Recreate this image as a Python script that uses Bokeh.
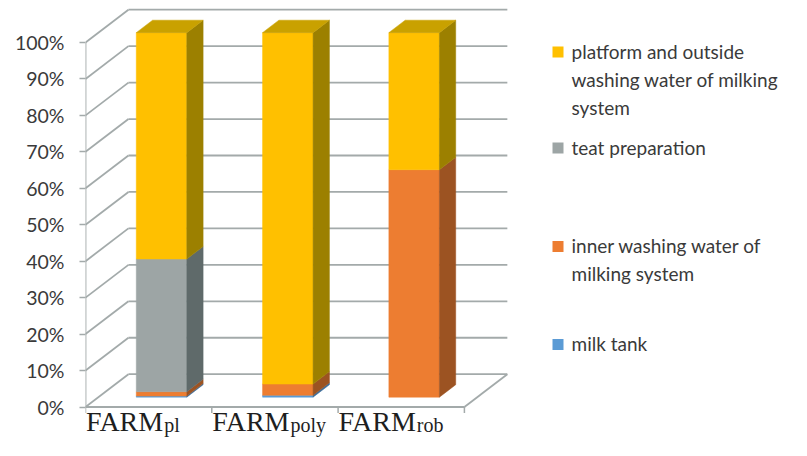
from bokeh.plotting import figure
from bokeh.models import FixedTicker, PrintfTickFormatter, Range1d
from bokeh.embed import file_html
from bokeh.resources import INLINE
from bokeh.core.properties import value

# ---------------- data ----------------
farm_main = ["FARM", "FARM", "FARM"]
farm_sub = ["pl", "poly", "rob"]
# stacked from bottom to top, percent of total
milk_tank = [0.3, 0.5, 0.0]
inner_washing = [1.2, 3.1, 62.4]
teat_preparation = [36.4, 0.0, 0.0]
platform_outside = [62.1, 96.4, 37.6]
series_names = ["milk tank", "inner washing water of\nmilking system",
                "teat preparation",
                "platform and outside\nwashing water of milking\nsystem"]
y_ticks = [0, 10, 20, 30, 40, 50, 60, 70, 80, 90, 100]

# ---------------- styles ----------------
front_colors = ["#5B9BD5", "#ED7D31", "#9DA5A5", "#FFC000"]
side_colors = ["#3C6E9C", "#9C5322", "#5F6A6A", "#9C8000"]
top_colors = ["#4A84BA", "#C8682A", "#7E8787", "#C9A100"]
grid_color = "#A3AAAA"
text_color = "#3a3a3a"

W, H = 791, 440
X0, Y0 = 85, 406.5        # canvas pixel of x=0 / y=0
PX_X, PX_Y = 126.3, 3.645  # pixels per category / per percent
DX, DY = 0.34, 9.0        # depth of the 3D box (data units)
F0, F1 = 0.30, 0.68       # bar depth fractions
BW = 0.40                 # bar width


def px_x(X):
    return (X - X0) / PX_X


def px_y(Y):
    return (Y0 - Y) / PX_Y


def dpx_y(d):
    return d / PX_Y


n = len(farm_main)
p = figure(width=W, height=H, output_backend="svg", toolbar_location=None,
           x_range=Range1d(0, px_x(W)), y_range=Range1d(px_y(H), px_y(0)),
           min_border_left=X0, min_border_right=0, min_border_top=0,
           min_border_bottom=0)
p.outline_line_color = None
p.grid.visible = False
p.xaxis.visible = False
p.background_fill_color = "white"
p.border_fill_color = "white"

# y axis
p.yaxis.ticker = FixedTicker(ticks=y_ticks)
p.yaxis.formatter = PrintfTickFormatter(format="%d%%")
p.yaxis.axis_line_color = None
p.yaxis.major_tick_in = 0
p.yaxis.major_tick_out = 6
p.yaxis.major_tick_line_color = grid_color
p.yaxis.major_tick_line_width = 1.5
p.yaxis.minor_tick_line_color = None
p.yaxis.major_label_standoff = 15
p.yaxis.major_label_text_font = "Lato"
p.yaxis.major_label_text_font_size = "19.5px"
p.yaxis.major_label_text_color = text_color

# walls, floor, axis lines
lw = 1.8
p.segment(x0=[0] * len(y_ticks), y0=y_ticks, x1=[DX] * len(y_ticks),
          y1=[v + DY for v in y_ticks], line_color=grid_color, line_width=lw)
p.segment(x0=[DX] * len(y_ticks), y0=[v + DY for v in y_ticks],
          x1=[n + DX] * len(y_ticks), y1=[v + DY for v in y_ticks],
          line_color=grid_color, line_width=lw)
p.segment(x0=[0, 0, n], y0=[0, 0, 0], x1=[0, n, n + DX],
          y1=[y_ticks[-1], 0, DY], line_color=grid_color, line_width=lw)
# category boundary ticks
p.segment(x0=list(range(n + 1)), y0=[0] * (n + 1), x1=list(range(n + 1)),
          y1=[-dpx_y(6)] * (n + 1), line_color=grid_color, line_width=1.5)

# bars
stacks = [milk_tank, inner_washing, teat_preparation, platform_outside]
fx, fy = F0 * DX, F0 * DY
bx, by = (F1 - F0) * DX, (F1 - F0) * DY
for i in range(n):
    left = i + 0.5 - BW / 2 + fx
    right = i + 0.5 + BW / 2 + fx
    base = 0.0
    top_idx = max(k for k, s in enumerate(stacks) if s[i] > 0)
    for k, s in enumerate(stacks):
        v = s[i]
        if v <= 0:
            continue
        b, t = base + fy, base + v + fy
        p.quad(left=[left], right=[right], bottom=[b], top=[t],
               fill_color=front_colors[k], line_color=front_colors[k],
               line_width=0.5)
        p.patches(xs=[[right, right + bx, right + bx, right]],
                  ys=[[b, b + by, t + by, t]],
                  fill_color=side_colors[k], line_color=side_colors[k],
                  line_width=0.5)
        if k == top_idx:
            p.patches(xs=[[left, right, right + bx, left + bx]],
                      ys=[[t, t, t + by, t + by]],
                      fill_color=top_colors[k], line_color=top_colors[k],
                      line_width=0.5)
        base += v

# category labels with subscripts
split = [i + 0.5 + 0.115 for i in range(n)]
p.text(x=split, y=[px_y(421)] * n, text=farm_main, text_align="right",
       text_baseline="alphabetic", text_font=value("Liberation Serif"),
       text_font_size="28px", text_color="#1e1e1e")
p.text(x=[s + 1.0 / PX_X for s in split], y=[px_y(424.5)] * n, text=farm_sub,
       text_align="left", text_baseline="alphabetic",
       text_font=value("Liberation Serif"), text_font_size="20px",
       text_color="#1e1e1e")

# legend (top to bottom: reverse of stacking order)
leg_y = [51.5, 147.5, 246.0, 344.0]
order = [3, 2, 1, 0]
p.scatter(x=[px_x(557.5)] * 4, y=[px_y(yy) for yy in leg_y], marker="square",
          size=11, fill_color=[front_colors[k] for k in order], line_color=None)
p.text(x=[px_x(571)] * 4, y=[px_y(yy - 12.5) for yy in leg_y],
       text=[series_names[k] for k in order], text_align="left",
       text_baseline="top", text_font=value("Lato"), text_font_size="19px",
       text_color=text_color, text_line_height=1.22)

open("out.html", "w").write(file_html(p, INLINE))
